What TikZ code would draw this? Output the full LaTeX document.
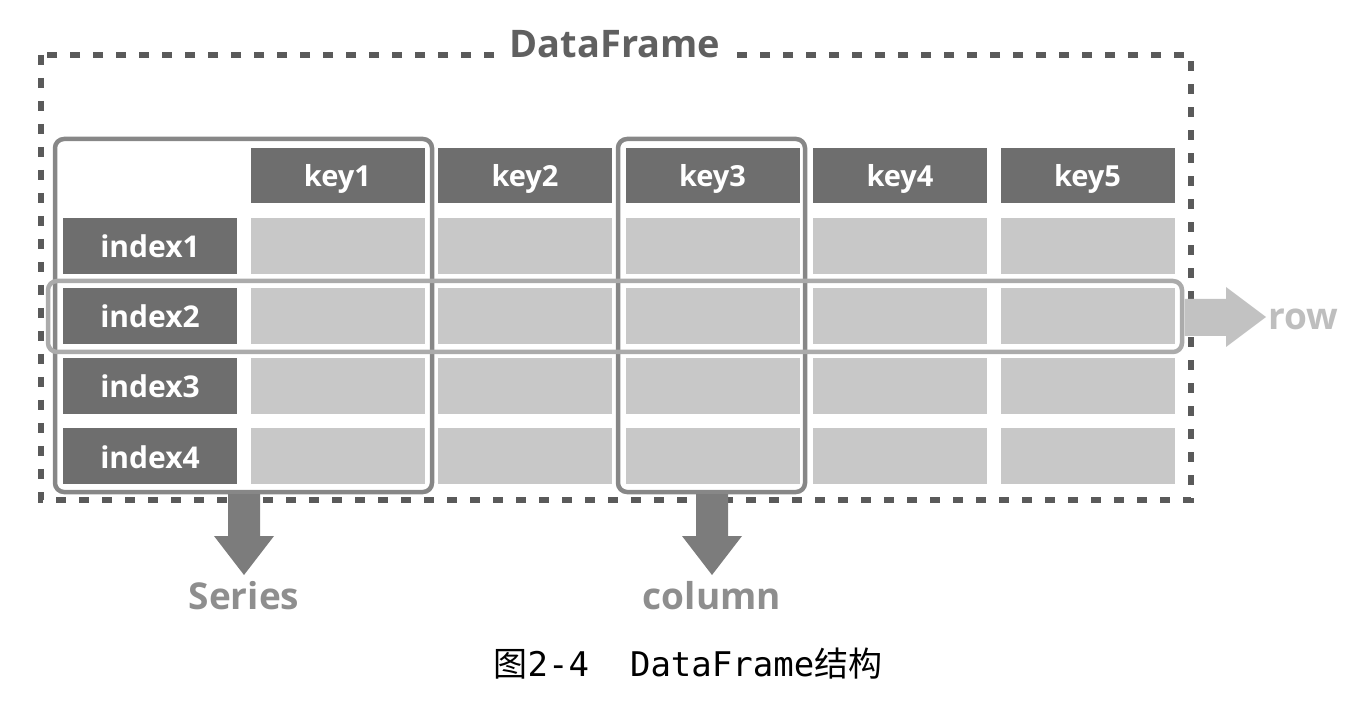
\documentclass[tikz,border=0pt]{standalone}
\usepackage{fontspec}
\setmainfont{Open Sans}
\newfontfamily\cjkfont{Noto Sans CJK SC}
\newfontfamily\monofont{DejaVu Sans Mono}
\definecolor{darkcell}{HTML}{6E6E6E}
\definecolor{lightcell}{HTML}{C8C8C8}
\definecolor{borderc}{HTML}{5A5A5A}
\definecolor{outlinec}{HTML}{878787}
\definecolor{rowoutc}{HTML}{ABABAB}
\definecolor{arrowc}{HTML}{7C7C7C}
\definecolor{rowarrowc}{HTML}{C2C2C2}
\definecolor{titlec}{HTML}{606060}
\definecolor{labelc}{HTML}{8E8E8E}
\definecolor{rowlabelc}{HTML}{BEBEBE}
\begin{document}
\begin{tikzpicture}[x=1pt,y=-1pt,
  cellbase/.style={inner sep=0pt, minimum width=174pt, text depth=0pt},
  keycell/.style={cellbase, fill=darkcell, minimum height=55pt, text height=23pt, text=white, font=\fontsize{29}{30}\selectfont\bfseries},
  idxcell/.style={cellbase, fill=darkcell, minimum height=56pt, text height=24pt, text=white, font=\fontsize{30}{31}\selectfont\bfseries},
  datacell/.style={cellbase, fill=lightcell, minimum height=56pt},
  frameline/.style={draw=borderc, line width=6pt, dash pattern=on 10pt off 13pt},
  selbox/.style={draw=outlinec, line width=4.5pt, rounded corners=9pt},
  rowbox/.style={draw=rowoutc, line width=4.5pt, rounded corners=9pt},
  bigarrow/.style={fill=arrowc},
  rowarrow/.style={fill=rowarrowc},
  outlabel/.style={anchor=base, inner sep=0pt, font=\fontsize{37}{38}\selectfont\bfseries}
]
\useasboundingbox (0,0) rectangle (1358,708);
% outer dashed DataFrame frame
\coordinate (fa) at (41,55);
\coordinate (fb) at (1191,500);
\draw[frameline] (fa) rectangle (fb);
% header keys
\foreach \i/\x in {1/337.5,2/525,3/712.5,4/900,5/1087.5}{
  \node[keycell] (key\i) at (\x,175.5) {key\i};
}
% index cells and data cells
\foreach \r/\y in {1/246,2/316,3/386,4/456}{
  \node[idxcell] (idx\r) at (150,\y) {index\r};
  \foreach \i/\x in {1/337.5,2/525,3/712.5,4/900,5/1087.5}{
    \node[datacell] (c\r\i) at (\x,\y) {};
  }
}
% selection outlines
\coordinate (sa) at (55,139);
\coordinate (sb) at (432,492);
\draw[selbox] (sa) rectangle (sb);
\coordinate (ca) at (618,139);
\coordinate (cb) at (805,492);
\draw[selbox] (ca) rectangle (cb);
\coordinate (ra) at (48,281);
\coordinate (rb) at (1182,352);
\draw[rowbox] (ra) rectangle (rb);
% arrows
\coordinate (seriestip) at (244,575);
\coordinate (columntip) at (712,575);
\coordinate (rowtip) at (1266,317);
\fill[bigarrow] (228,494) -- (260,494) -- (260,536) -- (274,536) -- (seriestip) -- (214,536) -- (228,536) -- cycle;
\fill[bigarrow] (696,494) -- (728,494) -- (728,536) -- (742,536) -- (columntip) -- (682,536) -- (696,536) -- cycle;
\fill[rowarrow] (1184.5,299) -- (1226,299) -- (1226,287) -- (rowtip) -- (1226,347) -- (1226,336) -- (1184.5,336) -- cycle;
% labels
\node[outlabel, text=labelc] (series) at (244,609) {Series};
\node[outlabel, text=labelc] (column) at (712,609) {column};
\node[outlabel, text=rowlabelc, anchor=base west] (rowlbl) at (1268,330) {row};
\node[anchor=base, fill=white, inner xsep=12pt, inner ysep=8pt, text=titlec, font=\fontsize{38}{39}\selectfont\bfseries] (title) at (615,58) {DataFrame};
% caption
\node[anchor=base, inner sep=0pt, font=\fontsize{34}{35}\selectfont] (caption) at (688,676) {{\cjkfont 图}{\monofont 2-4\ \ DataFrame}{\cjkfont 结构}};
\end{tikzpicture}
\end{document}
